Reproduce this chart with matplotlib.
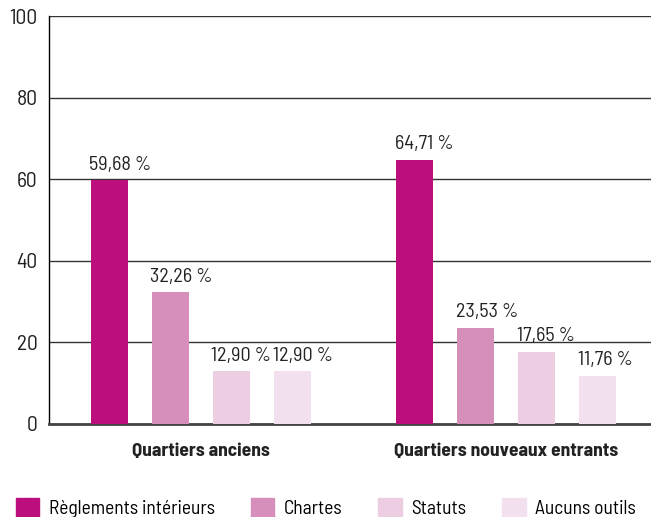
import matplotlib.pyplot as plt
from matplotlib import font_manager
from matplotlib.patches import Patch

installed = {f.name for f in font_manager.fontManager.ttflist}
family = next((f for f in ["Barlow Semi Condensed", "Barlow Condensed", "Roboto Condensed",
                           "Liberation Sans Narrow"] if f in installed), "DejaVu Sans")
plt.rcParams['font.family'] = [family, 'DejaVu Sans']

groups = ["Quartiers anciens", "Quartiers nouveaux entrants"]
series = ["Règlements intérieurs", "Chartes", "Statuts", "Aucuns outils"]
values = [
    [59.68, 64.71],
    [32.26, 23.53],
    [12.90, 17.65],
    [12.90, 11.76],
]
colors = ["#BC0E7C", "#D68EBB", "#EDCDE2", "#F2E0EF"]

fig = plt.figure(figsize=(6.51, 5.17), dpi=100)
ax = fig.add_axes([0.0753, 0.18, 0.9247, 0.789])

width = 0.121
step = 0.2
for i, (name, vals) in enumerate(zip(series, values)):
    off = (i - 1.5) * step
    xs = [g + off for g in range(len(groups))]
    ax.bar(xs, vals, width=width, color=colors[i], zorder=3)
    # labels start at the bar's left edge
    for x, v in zip(xs, vals):
        ax.text(x - width / 2 - 0.005, v + 1.6, f"{v:.2f}".replace(".", ",") + " %",
                ha="left", va="bottom", fontsize=14.5, color="#222222")

ax.set_xlim(-0.498, 1.475)
ax.set_ylim(0, 100)
ax.set_yticks([0, 20, 40, 60, 80, 100])
ax.yaxis.grid(True, color="#333333", linewidth=1, zorder=0)
ax.set_xticks(range(len(groups)))
ax.set_xticklabels(groups, fontsize=14, fontweight="bold")
ax.tick_params(axis="both", length=0, labelsize=14, colors="#222222")
ax.tick_params(axis="y", labelsize=15.5)
ax.tick_params(axis="x", pad=14)
ax.tick_params(axis="y", pad=8)
for s in ["top", "right"]:
    ax.spines[s].set_visible(False)
ax.spines["left"].set_color("black")
ax.spines["left"].set_linewidth(1)
ax.spines["bottom"].set_color("#444444")
ax.spines["bottom"].set_linewidth(2)

handles = [Patch(color=c) for c in colors]
fig.legend(handles, series, loc="center left", bbox_to_anchor=(0.009, 0.0174),
           ncol=4, frameon=False, fontsize=14, borderpad=0, handlelength=1.2,
           handleheight=1.2, columnspacing=1.85, handletextpad=0.5)

fig.savefig("out.png", dpi=100)
